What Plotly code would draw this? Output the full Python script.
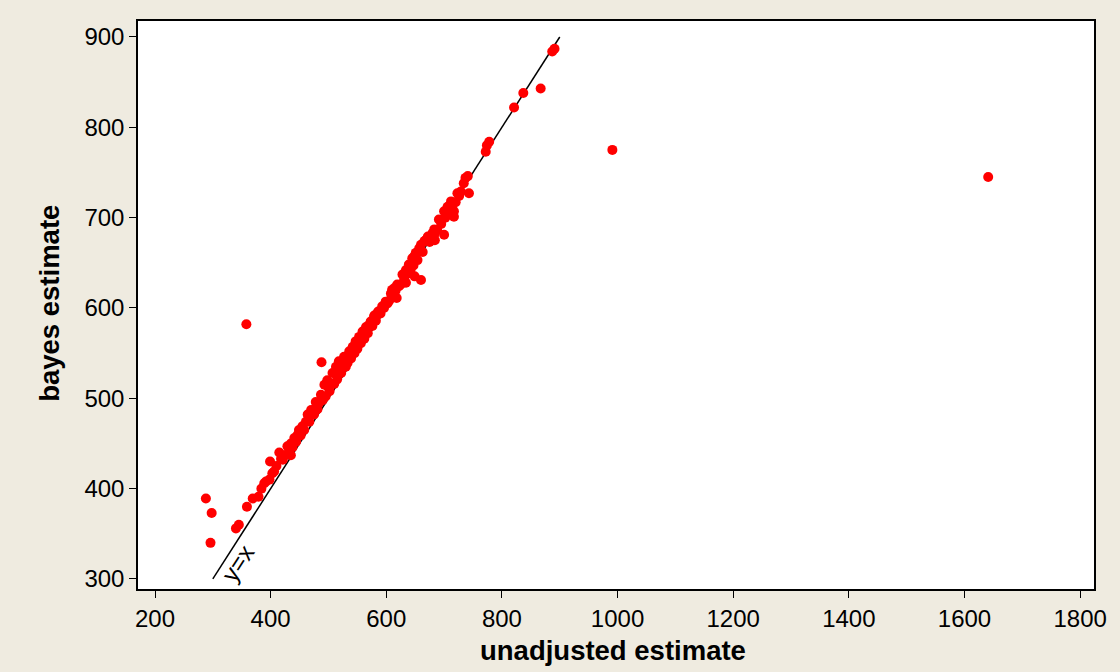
import plotly.graph_objects as go

# unadjusted estimate (x) and bayes estimate (y)
unadjusted = [
    288, 298, 296, 340, 345, 359, 369, 379, 384, 389, 392, 398, 403, 406, 399,
    415, 421, 435, 429, 435, 441, 447, 449, 455, 461, 470, 473, 478, 484, 490,
    464, 470, 478, 487, 493, 498, 507, 513, 518, 527, 536, 542, 547, 553, 559,
    565, 573, 579, 586,
    570, 579, 585, 593, 599, 608, 614, 619, 618, 628, 634, 639, 645, 651, 657,
    660, 668, 672, 680, 684, 700, 660, 649, 634,
    648, 654, 666, 671, 683, 683, 691, 700, 706, 712, 717, 717, 714, 723, 729,
    743, 734, 737, 741,
    772, 778, 774, 821, 837, 867, 887, 891, 358, 991, 1641, 488,
    452, 458, 467, 475, 481, 495, 502, 510, 515, 522, 530, 533, 539, 545, 550,
    556, 562, 568, 576, 582, 590, 596, 602, 605, 611, 616, 622, 625, 631, 637,
    642, 647, 654, 663, 675, 688, 695, 702, 708, 720, 726,
    520, 540, 500, 560, 580, 610, 425, 432, 444, 438, 410, 418,
]
bayes = [
    389, 373, 340, 356, 360, 380, 389, 391, 400, 406, 408, 410, 417, 419, 430,
    440, 432, 437, 447, 450, 456, 460, 465, 469, 474, 482, 485, 489, 495, 498,
    482, 487, 496, 504, 515, 520, 528, 535, 541, 546, 552, 557, 563, 568, 574,
    579, 585, 591, 596,
    581, 589, 594, 602, 607, 616, 622, 626, 611, 637, 642, 648, 655, 661, 666,
    670, 675, 679, 683, 675, 681, 631, 635, 628,
    657, 662, 674, 677, 681, 687, 698, 707, 712, 718, 707, 701, 711, 727, 729,
    727, 738, 744, 746,
    773, 784, 780, 822, 838, 843, 884, 887, 582, 775, 745, 540,
    459, 465, 474, 482, 488, 502, 508, 516, 521, 528, 535, 539, 544, 550, 555,
    561, 566, 572, 580, 586, 594, 600, 605, 608, 614, 619, 624, 626, 632, 638,
    642, 647, 653, 662, 673, 686, 693, 700, 706, 717, 724,
    532, 552, 512, 571, 592, 620, 437, 442, 452, 446, 425, 433,
]

# reference line y = x
ref_x = [300, 900]
ref_y = [300, 900]

x_ticks = [200, 400, 600, 800, 1000, 1200, 1400, 1600, 1800]
y_ticks = [300, 400, 500, 600, 700, 800, 900]

FONT = "Liberation Sans, Arial, sans-serif"

fig = go.Figure()
fig.add_trace(go.Scatter(
    x=ref_x, y=ref_y, mode="lines",
    line=dict(color="black", width=1.5), hoverinfo="skip", showlegend=False,
))
fig.add_trace(go.Scatter(
    x=unadjusted, y=bayes, mode="markers",
    marker=dict(color="#FF0000", size=10, line=dict(width=0)),
    showlegend=False,
))

axis_common = dict(
    showgrid=False, zeroline=False,
    showline=True, linecolor="black", linewidth=1.5, mirror=True,
    ticks="outside", ticklen=7, tickwidth=1.2, tickcolor="black",
    tickfont=dict(family=FONT, size=24, color="black"),
)

fig.update_layout(
    width=1120, height=672,
    margin=dict(l=138, r=26, t=21, b=83),
    paper_bgcolor="#EFEBE0",
    plot_bgcolor="white",
    xaxis=dict(range=[170.6, 1824], tickvals=x_ticks, **axis_common),
    yaxis=dict(range=[288.9, 917.7], tickvals=y_ticks, **axis_common),
    annotations=[
        dict(text="<b>unadjusted estimate</b>", xref="paper", yref="paper",
             x=0.497, y=0, xanchor="center", yanchor="middle", yshift=-61,
             showarrow=False,
             font=dict(family=FONT, size=27.5, color="black")),
        dict(text="<b>bayes estimate</b>", xref="paper", yref="paper",
             x=0, y=0.502, xanchor="center", yanchor="middle", xshift=-88,
             textangle=-90, showarrow=False,
             font=dict(family=FONT, size=27.5, color="black")),
        dict(text="y=x", xref="x", yref="y", x=343, y=317,
             xanchor="center", yanchor="middle", textangle=-57, showarrow=False,
             font=dict(family=FONT, size=24, color="black")),
    ],
)

fig.write_html("out.html")
